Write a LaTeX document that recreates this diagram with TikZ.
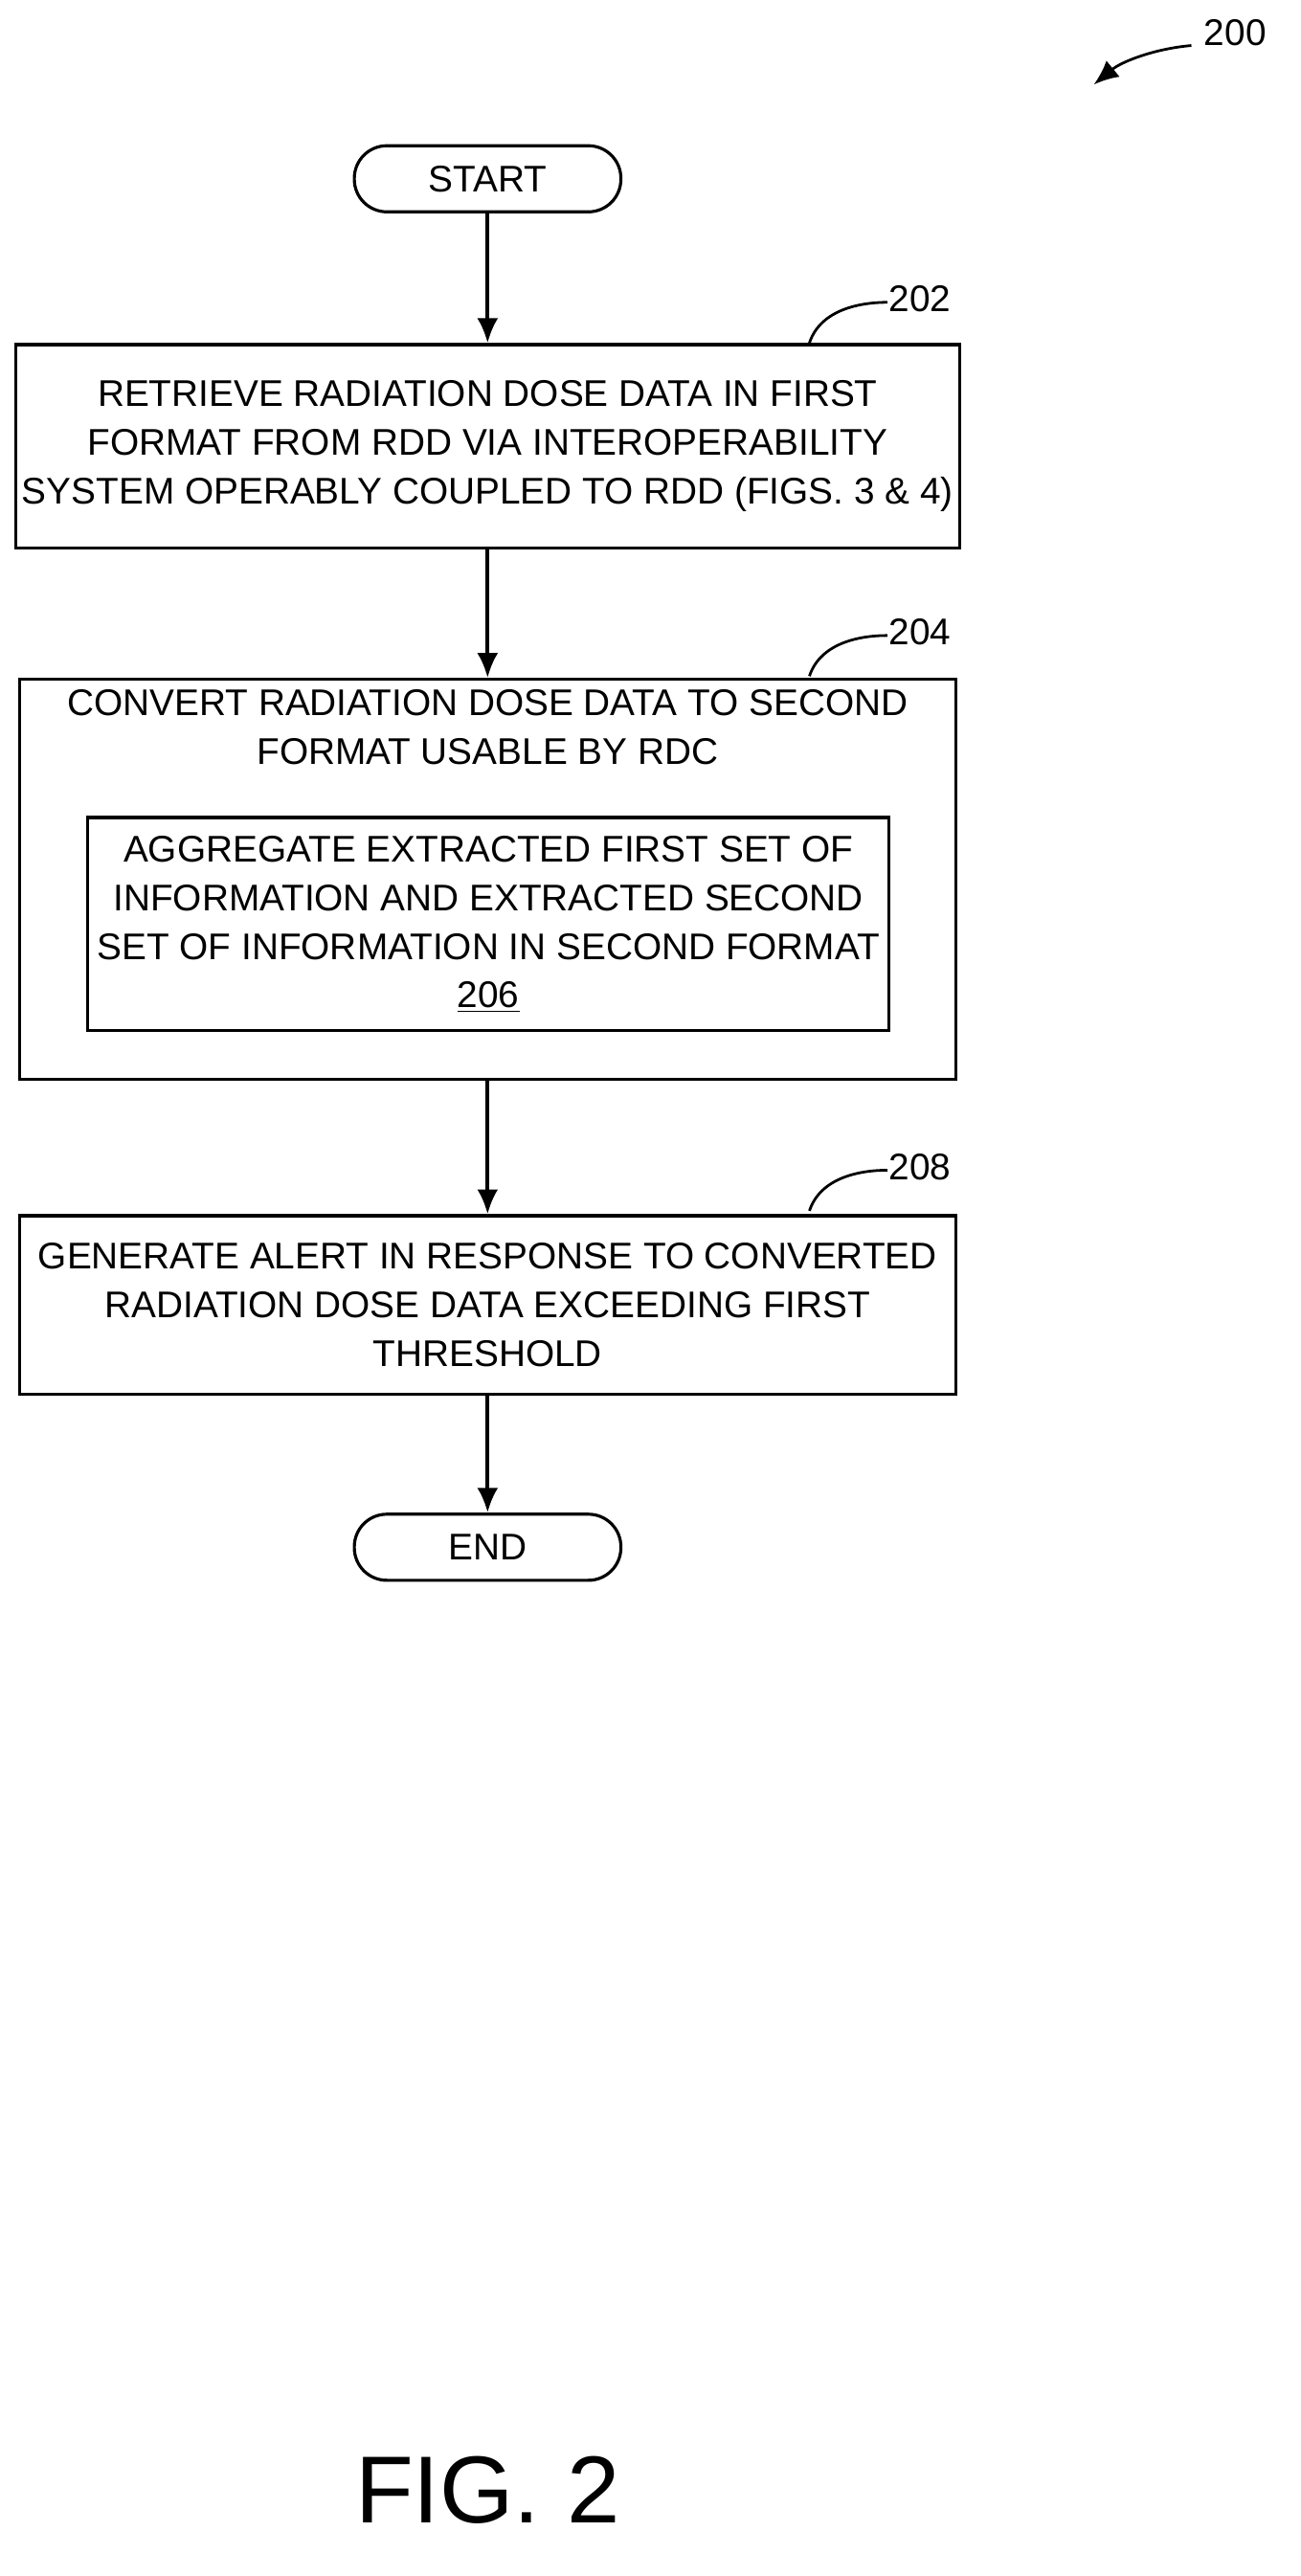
\documentclass[tikz,border=0pt]{standalone}
\usepackage{fontspec}
\setmainfont{Liberation Sans}
\usetikzlibrary{arrows.meta,positioning}
\begin{document}
\begin{tikzpicture}[x=0.03cm,y=-0.03cm,
    every node/.style={font=\fontsize{19.5}{25.6}\selectfont},
    box/.style={draw,line width=1.6pt,align=center,minimum width=17.28cm},
    term/.style={draw,line width=1.6pt,rounded corners=0.6cm,minimum width=4.92cm,minimum height=1.22cm},
    flow/.style={line width=2pt,-{Latex[length=13pt,width=11pt]}},
    lead/.style={line width=1.4pt}]

    \useasboundingbox (0,0) rectangle (800,1585);

    % Terminaux
    \node[term] (start) at (300,110) {START};
    \node[term] (end) at (300,952) {END};

    % Etapes
    \node[box,minimum height=3.75cm] (s202) at (300,274.5)
        {RETRIEVE RADIATION DOSE DATA IN FIRST\\FORMAT FROM RDD VIA INTEROPERABILITY\\SYSTEM OPERABLY COUPLED TO RDD (FIGS. 3 \& 4)};
    \node[box,minimum height=7.38cm] (s204) at (300,541) {};
    \node[align=center,anchor=north] (t204) at (300,420)
        {CONVERT RADIATION DOSE DATA TO SECOND\\FORMAT USABLE BY RDC};
    \node[box,minimum width=14.79cm,minimum height=3.93cm] (s206) at (300.5,568.5)
        {AGGREGATE EXTRACTED FIRST SET OF\\INFORMATION AND EXTRACTED SECOND\\SET OF INFORMATION IN SECOND FORMAT\\\underline{206}};
    \node[box,minimum height=3.3cm] (s208) at (300,803)
        {GENERATE ALERT IN RESPONSE TO CONVERTED\\RADIATION DOSE DATA EXCEEDING FIRST\\THRESHOLD};

    % Fleches
    \draw[flow] (start) -- (s202);
    \draw[flow] (s202) -- (s204);
    \draw[flow] (s204) -- (s208);
    \draw[flow] (s208) -- (end);

    % Reperes
    \node (n202) at (566,184) {202};
    \draw[lead] (498,211) .. controls (505,190) and (530,186) .. (546,186);
    \node (n204) at (566,389) {204};
    \draw[lead] (498,416) .. controls (505,395) and (530,391) .. (546,391);
    \node (n208) at (566,718) {208};
    \draw[lead] (498,745) .. controls (505,724) and (530,720) .. (546,720);
    \node (n200) at (760,20) {200};
    \coordinate (a200) at (673,52);
    \draw[lead,-{Latex[length=13pt,width=11pt]}] (733,28) .. controls (710,30) and (690,38) .. (a200);

    \node[font=\fontsize{50}{54}\selectfont] (fig) at (300,1532) {FIG. 2};
\end{tikzpicture}
\end{document}
